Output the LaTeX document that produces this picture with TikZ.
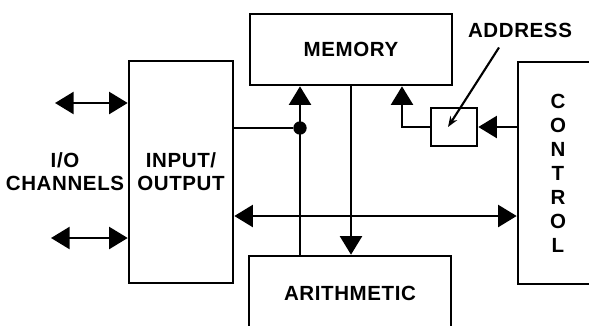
\documentclass[tikz,border=0pt]{standalone}
\usepackage{fontspec}
\setmainfont{Liberation Sans}[LetterSpace=3]
\usetikzlibrary{arrows.meta, positioning, calc}
\tikzset{
  cpu block/.style={
    rectangle, draw=black, line width=2.2pt, fill=white,
    inner sep=0pt, align=center,
    font=\bfseries\fontsize{17.5}{19.5}\selectfont
  },
  cpu label/.style={
    inner sep=0pt, align=center,
    font=\bfseries\fontsize{17.5}{19.5}\selectfont
  },
  cpu line/.style={line width=2.2pt, draw=black},
  cpu arrow/.style={
    cpu line, -{Triangle[length=0.56cm, width=0.66cm]}
  },
  cpu both/.style={
    cpu line, {Triangle[length=0.56cm, width=0.66cm]}-{Triangle[length=0.56cm, width=0.66cm]}
  },
  cpu pointer/.style={
    cpu line, line width=1.8pt, -{Stealth[length=0.32cm, width=0.24cm]}
  },
  cpu dot/.style={circle, fill=black, inner sep=0pt, minimum size=0.4cm}
}
\begin{document}
\begin{tikzpicture}[x=0.03cm, y=-0.03cm]
  \useasboundingbox (0,0) rectangle (589,325);
  \clip (0,0) rectangle (589,325);

  % blocks
  \node (io) [cpu block, minimum width=3.12cm, minimum height=6.66cm] at (181,172) {INPUT/\\OUTPUT};
  \node (mem) [cpu block, minimum width=6.06cm, minimum height=2.13cm] at (351,49.5) {MEMORY};
  \node (arith) [cpu block, minimum width=6.06cm, minimum height=2.22cm] at (350,293) {ARITHMETIC};
  \node (ctrl) [cpu block, minimum width=2.4cm, minimum height=6.66cm,
    font=\bfseries\fontsize{17.5}{20.5}\selectfont] at (558,173) {C\\O\\N\\T\\R\\O\\L};
  \node (addr) [cpu block, minimum width=1.38cm, minimum height=1.14cm] at (454,127) {};

  % labels
  \node (chan) [cpu label] at (65,172) {I/O\\CHANNELS};
  \node (addrlbl) [cpu label] at (520,30) {ADDRESS};

  % connectors
  \node (jn) [cpu dot] at (300,128) {};
  \draw [cpu line] (io.east |- jn) -- (jn);
  \draw [cpu arrow] (jn |- arith.north) -- (jn |- mem.south);
  \draw [cpu arrow] (mem.south) -- (mem.south |- arith.north);
  \draw [cpu arrow] (ctrl.west |- addr.east) -- (addr.east);
  \draw [cpu arrow] (addr.west) -| ($(mem.south)+(51,0)$);

  \coordinate (bus) at ($(io.east)+(0,44)$);
  \draw [cpu both] (bus) -- (bus -| ctrl.west);

  \coordinate (ch1) at (55,103);
  \coordinate (ch2) at (51,238);
  \draw [cpu both] (ch1) -- (ch1 -| io.west);
  \draw [cpu both] (ch2) -- (ch2 -| io.west);

  \draw [cpu pointer] ($(addrlbl.south)+(-21,10)$) -- ($(addr.center)+(-6,0)$);
\end{tikzpicture}
\end{document}
